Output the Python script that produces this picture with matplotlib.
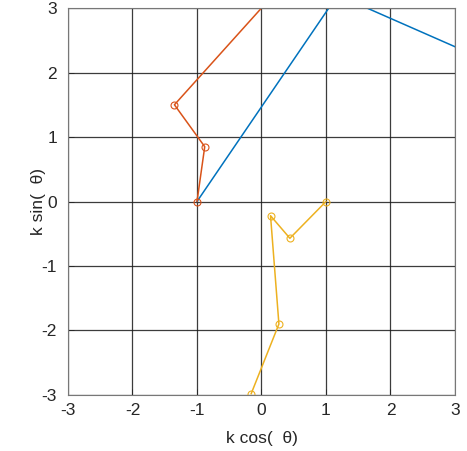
import matplotlib.pyplot as plt

# values
blue_x = [-1.0, 1.18, 3.0]
blue_y = [0.0, 3.2, 2.4]

orange_x = [-1.0, -0.88, -1.35, 0.45]
orange_y = [0.0, 0.85, 1.5, 3.5]

yellow_x = [1.0, 0.44, 0.14, 0.27, -0.16]
yellow_y = [0.0, -0.57, -0.22, -1.9, -2.98]

ticks = [-3, -2, -1, 0, 1, 2, 3]

colors = {
    'blue': '#0072BD',
    'orange': '#D95319',
    'yellow': '#EDB120',
    'text': '#262626',
}

plt.rcParams['font.family'] = ['Liberation Sans', 'DejaVu Sans']
plt.rcParams['axes.unicode_minus'] = False

fig = plt.figure(figsize=(4.67, 4.51), dpi=100)
ax = fig.add_axes([0.1456, 0.1242, 0.8287, 0.858])

ax.plot(blue_x, blue_y, color=colors['blue'], linewidth=1.1)
ax.plot(orange_x, orange_y, color=colors['orange'], linewidth=1.1,
        marker='o', markersize=5, markerfacecolor='none', markeredgewidth=0.8)
ax.plot(yellow_x, yellow_y, color=colors['yellow'], linewidth=1.1,
        marker='o', markersize=5, markerfacecolor='none', markeredgewidth=0.8)

ax.set_xlim(-3, 3)
ax.set_ylim(-3, 3)
ax.set_xticks(ticks)
ax.set_yticks(ticks)

ax.grid(True, color='#1a1a1a', linewidth=0.9, alpha=0.85)
ax.set_axisbelow(True)

ax.tick_params(direction='in', length=4, width=0.6, colors=colors['text'],
               labelsize=12.5)
ax.tick_params(axis='x', pad=6)
ax.tick_params(axis='y', pad=8)
for spine in ax.spines.values():
    spine.set_color('#777777')
    spine.set_linewidth(0.8)

ax.set_xlabel('k cos(  θ)', fontsize=12.5, color=colors['text'], labelpad=9)
ax.set_ylabel('k sin(  θ)', fontsize=12.5, color=colors['text'], labelpad=-3)

plt.savefig('out.png', dpi=100)
